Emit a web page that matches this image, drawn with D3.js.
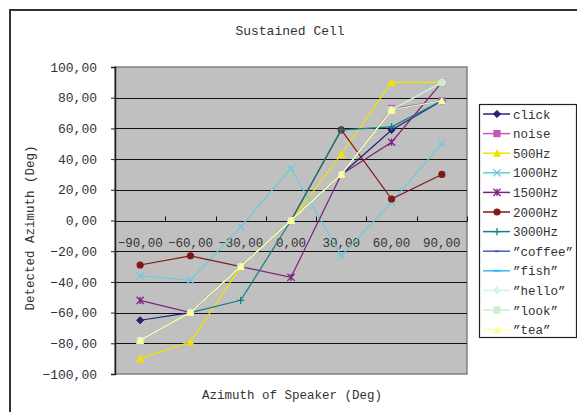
<!DOCTYPE html>
<html>
<head>
<meta charset="utf-8">
<script src="https://cdn.jsdelivr.net/npm/d3@7"></script>
<style>
  body { margin: 0; background: #fff; }
  text { font-family: "Liberation Mono", "DejaVu Sans Mono", monospace; fill: #333; }
</style>
</head>
<body>
<svg id="chart" width="577" height="412"></svg>
<script>
// chart data
const categories = [-90, -60, -30, 0, 30, 60, 90];
const xTickLabels = ["−90,00", "−60,00", "−30,00", "0,00", "30,00", "60,00", "90,00"];
const yTicks = [100, 80, 60, 40, 20, 0, -20, -40, -60, -80, -100];
const yTickLabels = ["100,00", "80,00", "60,00", "40,00", "20,00", "0,00", "−20,00", "−40,00", "−60,00", "−80,00", "−100,00"];
const seriesNames = ["click", "noise", "500Hz", "1000Hz", "1500Hz", "2000Hz", "3000Hz", "\u201dcoffee\u201d", "\u201dfish\u201d", "\u201dhello\u201d", "\u201dlook\u201d", "\u201dtea\u201d"];

const click   = [-65, -60, -30, 0, 30, 59, 78];
const noise   = [-78, -60, -30, 0, 30, 73, 78];
const hz500   = [-90, -79, -30, 0, 43, 90, 90];
const hz1000  = [-36, -39, -4, 34, -23, 12, 50];
const hz1500  = [-52, -60, -30, -37, 30, 51, 90];
const hz2000  = [-29, -23, -30, 0, 59, 14, 30];
const hz3000  = [-78, -60, -52, 0, 59, 61, 78];
const coffee  = [-78, -60, -30, 0, 30, 72, 78];
const fish    = [-78, -60, -30, 0, 30, 72, 78];
const hello   = [-78, -60, -30, 0, 30, 72, 90];
const look    = [-78, -60, -30, 0, 30, 72, 90];
const tea     = [-78, -60, -30, 0, 30, 72, 78];

const seriesValues = [click, noise, hz500, hz1000, hz1500, hz2000, hz3000, coffee, fish, hello, look, tea];
const colors = ["#22227a", "#c858b8", "#f2e200", "#66ccdd", "#802080", "#801818", "#108080",
                "#4a5cc0", "#33bbee", "#d4f2f2", "#cceecc", "#ffff99"];
const markers = ["diamond", "square", "triangle", "x", "star", "circle", "plus",
                 "dash", "longdash", "diamond", "square", "triangle"];

const series = seriesNames.map((name, i) => ({name, values: seriesValues[i], color: colors[i], marker: markers[i]}));

const svg = d3.select("#chart");
const plot = {left: 115, right: 467, top: 67, bottom: 374};

const x = d3.scaleBand().domain(categories).range([plot.left, plot.right]);
const y = d3.scaleLinear().domain([-100, 100]).range([plot.bottom, plot.top]);
const cx = d => x(d) + x.bandwidth() / 2;

// outer chart border
svg.append("path")
    .attr("d", "M10,412 L10,10 L577,10")
    .attr("fill", "none").attr("stroke", "#333").attr("stroke-width", 2);

svg.append("text").attr("x", 290).attr("y", 35)
    .attr("text-anchor", "middle").style("font-size", "13px").text("Sustained Cell");

// plot area
svg.append("rect")
    .attr("x", plot.left).attr("y", plot.top)
    .attr("width", plot.right - plot.left).attr("height", plot.bottom - plot.top)
    .attr("fill", "#c0c0c0").attr("stroke", "#808080").attr("stroke-width", 1.5);

// gridlines
svg.append("g").selectAll("line").data(yTicks.filter(v => v !== 100 && v !== -100)).enter()
    .append("line")
    .attr("x1", plot.left).attr("x2", plot.right)
    .attr("y1", d => Math.round(y(d)) + 0.5).attr("y2", d => Math.round(y(d)) + 0.5)
    .attr("stroke", "#111").attr("stroke-width", 1);

// y axis
const yAxis = svg.append("g").attr("transform", "translate(" + plot.left + ",0)")
    .call(d3.axisLeft(y).tickValues(yTicks).tickSize(4).tickFormat((d, i) => yTickLabels[i]));
yAxis.select(".domain").attr("stroke", "#222").attr("stroke-width", 1.5);
yAxis.selectAll(".tick line").attr("stroke", "#222");
yAxis.selectAll(".tick text").attr("x", -18).style("font-size", "13px").attr("fill", "#333")
    .style("font-family", "Liberation Mono");

// x axis at zero, ticks between categories pointing up
const zeroY = Math.round(y(0)) + 0.5;
svg.append("line").attr("x1", plot.left).attr("x2", plot.right)
    .attr("y1", zeroY).attr("y2", zeroY).attr("stroke", "#111").attr("stroke-width", 1.2);
const bounds = categories.slice(1).map(d => x(d)).concat([plot.right]);
svg.append("g").selectAll("line").data(bounds).enter().append("line")
    .attr("x1", d => Math.round(d) + 0.5).attr("x2", d => Math.round(d) + 0.5)
    .attr("y1", zeroY).attr("y2", zeroY - 5).attr("stroke", "#111");
svg.append("g").selectAll("text").data(categories).enter().append("text")
    .attr("x", d => cx(d)).attr("y", zeroY + 25)
    .attr("text-anchor", "middle").style("font-size", "12.5px")
    .text((d, i) => xTickLabels[i]);

// axis titles
svg.append("text").attr("transform", "translate(34,228) rotate(-90)")
    .attr("text-anchor", "middle").style("font-size", "12.5px").text("Detected Azimuth (Deg)");
svg.append("text").attr("x", 292).attr("y", 399)
    .attr("text-anchor", "middle").style("font-size", "12.5px").text("Azimuth of Speaker (Deg)");

function drawMarker(g, type, color) {
  const s = 3.6;
  if (type === "diamond") {
    g.append("path").attr("d", `M0,${-s}L${s},0L0,${s}L${-s},0Z`).attr("fill", color).attr("stroke", color);
  } else if (type === "square") {
    g.append("rect").attr("x", -s).attr("y", -s).attr("width", 2 * s).attr("height", 2 * s).attr("fill", color);
  } else if (type === "triangle") {
    g.append("path").attr("d", `M0,${-s - 0.5}L${s + 0.5},${s}L${-s - 0.5},${s}Z`).attr("fill", color);
  } else if (type === "circle") {
    g.append("circle").attr("r", s).attr("fill", color);
  } else if (type === "x") {
    g.append("path").attr("d", `M${-s},${-s}L${s},${s}M${s},${-s}L${-s},${s}`).attr("stroke", color).attr("stroke-width", 1.3);
  } else if (type === "star") {
    g.append("path").attr("d", `M${-s},${-s}L${s},${s}M${s},${-s}L${-s},${s}M0,${-s}L0,${s}`).attr("stroke", color).attr("stroke-width", 1.3);
  } else if (type === "plus") {
    g.append("path").attr("d", `M${-s},0L${s},0M0,${-s}L0,${s}`).attr("stroke", color).attr("stroke-width", 1.3);
  } else if (type === "dash") {
    g.append("rect").attr("x", -2).attr("y", -1).attr("width", 4).attr("height", 2).attr("fill", color);
  } else if (type === "longdash") {
    g.append("rect").attr("x", -3.5).attr("y", -1).attr("width", 7).attr("height", 2).attr("fill", color);
  }
}

// series lines + markers
const line = d3.line().x((d, i) => cx(categories[i])).y(d => y(d));
const lines = svg.append("g");
series.forEach(s => {
  const g = lines.append("g");
  g.append("path").attr("d", line(s.values))
      .attr("fill", "none").attr("stroke", s.color).attr("stroke-width", 1.2);
  s.values.forEach((v, i) => {
    drawMarker(g.append("g").attr("transform", "translate(" + cx(categories[i]) + "," + y(v) + ")"), s.marker, s.color);
  });
});

// legend
const legend = svg.append("g");
legend.append("rect").attr("x", 479.5).attr("y", 104.5).attr("width", 97).attr("height", 233)
    .attr("fill", "#fff").attr("stroke", "#222").attr("stroke-width", 1.2);
series.forEach((s, i) => {
  const ly = 114 + i * 19.6;
  const g = legend.append("g");
  g.append("line").attr("x1", 483).attr("x2", 510).attr("y1", ly).attr("y2", ly)
      .attr("stroke", s.color).attr("stroke-width", 1.5);
  drawMarker(g.append("g").attr("transform", "translate(497," + ly + ")"), s.marker, s.color);
  g.append("text").attr("x", 513).attr("y", ly + 4.5).style("font-size", "12.5px").text(s.name);
});
</script>
</body>
</html>
